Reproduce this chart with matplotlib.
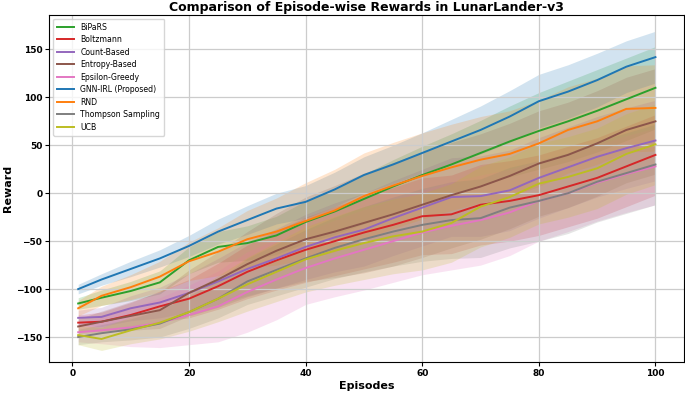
import numpy as np
import matplotlib
matplotlib.use("Agg")
import matplotlib.pyplot as plt

episodes = [1, 5, 10, 15, 20, 25, 30, 35, 40, 45, 50, 55, 60, 65, 70, 75, 80, 85, 90, 95, 100]

methods = ["BiPaRS", "Boltzmann", "Count-Based", "Entropy-Based", "Epsilon-Greedy",
           "GNN-IRL (Proposed)", "RND", "Thompson Sampling", "UCB"]
colors = ["tab:green", "tab:red", "tab:purple", "tab:brown", "tab:pink",
          "tab:blue", "tab:orange", "tab:gray", "tab:olive"]

# mean reward per method
bipars = [-115, -109, -102, -93, -70, -56, -52, -44, -30, -19, -6, 7, 19, 30, 42, 54, 65, 75, 86, 98, 110]
boltzmann = [-135, -134, -127, -118, -110, -97, -82, -70, -59, -50, -41, -33, -24, -22, -12, -8, -2, 7, 16, 28, 40]
count_based = [-130, -129, -120, -114, -104, -92, -79, -68, -56, -46, -38, -26, -15, -4, -3, 3, 16, 27, 38, 47, 55]
entropy = [-139, -134, -128, -122, -104, -90, -74, -60, -48, -40, -31, -22, -12, -2, 7, 18, 31, 40, 52, 66, 75]
eps_greedy = [-145, -143, -140, -135, -127, -118, -103, -90, -78, -68, -59, -50, -41, -34, -28, -20, -8, 0, 11, 20, 28]
gnn_irl = [-100, -90, -79, -68, -55, -40, -28, -16, -9, 4, 19, 30, 42, 54, 66, 80, 96, 106, 118, 132, 142]
rnd = [-120, -107, -98, -87, -71, -61, -48, -40, -29, -18, -3, 8, 18, 27, 35, 41, 52, 66, 75, 88, 89]
thompson = [-150, -146, -142, -136, -124, -110, -92, -80, -68, -57, -48, -40, -33, -28, -26, -15, -8, 0, 12, 21, 30]
ucb = [-148, -152, -143, -135, -124, -110, -95, -82, -69, -60, -52, -45, -40, -31, -14, -4, 10, 17, 26, 41, 51]

# spread (std) per method
bipars_std = [6, 8, 10, 12, 14, 16, 18, 20, 22, 24, 26, 28, 30, 32, 34, 37, 40, 42, 43, 43, 43]
boltzmann_std = [8, 10, 13, 16, 20, 24, 28, 31, 34, 36, 38, 39, 40, 41, 42, 42, 42, 42, 42, 42, 42]
count_std = [8, 10, 13, 16, 20, 24, 28, 31, 34, 36, 38, 39, 40, 41, 42, 42, 42, 42, 42, 42, 42]
entropy_std = [8, 11, 15, 19, 24, 29, 34, 39, 44, 48, 52, 54, 55, 55, 55, 55, 55, 55, 55, 55, 55]
eps_std = [10, 14, 20, 26, 31, 37, 42, 42, 38, 40, 42, 43, 44, 46, 47, 45, 42, 40, 40, 40, 40]
gnn_std = [5, 6, 8, 9, 11, 13, 15, 16, 17, 18, 19, 20, 21, 23, 25, 27, 28, 28, 28, 27, 27]
rnd_std = [8, 10, 13, 16, 20, 25, 30, 35, 40, 43, 45, 45, 45, 45, 45, 45, 45, 45, 45, 45, 45]
thompson_std = [8, 9, 11, 14, 17, 20, 24, 27, 30, 32, 34, 36, 38, 40, 41, 42, 42, 42, 42, 42, 42]
ucb_std = [10, 12, 14, 17, 20, 24, 28, 31, 34, 36, 38, 39, 40, 41, 42, 42, 42, 42, 42, 42, 42]

means = [bipars, boltzmann, count_based, entropy, eps_greedy, gnn_irl, rnd, thompson, ucb]
stds = [bipars_std, boltzmann_std, count_std, entropy_std, eps_std, gnn_std, rnd_std, thompson_std, ucb_std]

fig, ax = plt.subplots(figsize=(6.85, 3.93), dpi=100)
fig.subplots_adjust(left=0.072, right=0.999, bottom=0.079, top=0.962)

x = np.asarray(episodes)
for name, c, m, s in zip(methods, colors, means, stds):
    m = np.asarray(m, dtype=float)
    s = np.asarray(s, dtype=float)
    ax.plot(x, m, color=c, lw=1.4, label=name)
    ax.fill_between(x, m - s, m + s, color=c, alpha=0.2, lw=0)

ax.set_title("Comparison of Episode-wise Rewards in LunarLander-v3", fontsize=9, fontweight="bold", pad=3)
ax.set_xlabel("Episodes", fontsize=8, fontweight="bold", labelpad=2)
ax.set_ylabel("Reward", fontsize=8, fontweight="bold", labelpad=2)
ax.set_xticks([0, 20, 40, 60, 80, 100])
ax.set_yticks([-150, -100, -50, 0, 50, 100, 150])
ax.set_ylim(-176, 186)
ax.tick_params(labelsize=6.5, length=3, pad=2)
for lbl in ax.get_xticklabels() + ax.get_yticklabels():
    lbl.set_fontweight("bold")
ax.grid(True, color="#cccccc", lw=0.9)
ax.legend(loc="upper left", fontsize=5.6, handlelength=2.2, labelspacing=0.45, borderpad=0.5)

fig.savefig("out.png", dpi=100)
